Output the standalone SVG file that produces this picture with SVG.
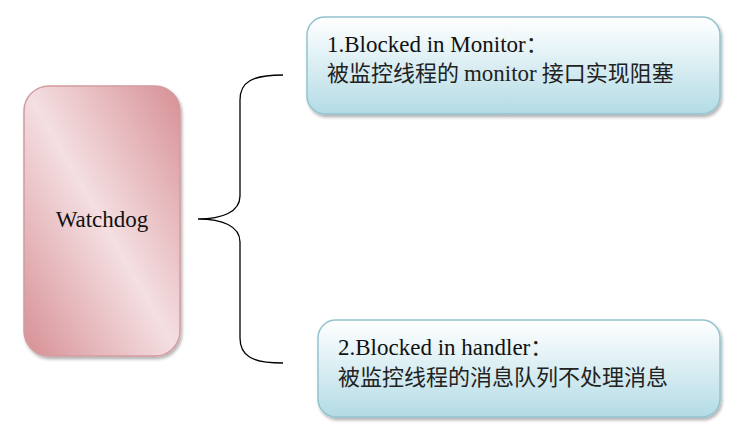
<svg xmlns="http://www.w3.org/2000/svg" width="746" height="443" viewBox="0 0 746 443">
  <defs>
    <linearGradient id="pink" x1="1" y1="0" x2="0" y2="1">
      <stop offset="0" stop-color="#d68f94"/>
      <stop offset="0.22" stop-color="#e4b3b7"/>
      <stop offset="0.5" stop-color="#f4dfe2"/>
      <stop offset="0.78" stop-color="#e4b3b7"/>
      <stop offset="1" stop-color="#d68f94"/>
    </linearGradient>
    <linearGradient id="blue" x1="0" y1="0" x2="0" y2="1">
      <stop offset="0" stop-color="#ffffff"/>
      <stop offset="0.3" stop-color="#e9f5f8"/>
      <stop offset="1" stop-color="#b3dbe5"/>
    </linearGradient>
    <filter id="shadow" x="-10%" y="-10%" width="120%" height="130%">
      <feDropShadow dx="1.5" dy="2.5" stdDeviation="1.5" flood-color="#000" flood-opacity="0.3"/>
    </filter>
  </defs>
  <style>
    .lbl { font-family: "Liberation Serif", "Noto Sans CJK SC", serif; font-size: 23px; fill: #111; }
    .cjk { font-family: "Noto Sans CJK SC", sans-serif; font-size: 22px; fill: #222; }
    .lat { font-family: "Liberation Serif", serif; font-size: 23px; }
    .blueBox { fill: url(#blue); stroke: #92c4d0; stroke-width: 1.5; filter: url(#shadow); }
    .pinkBox { fill: url(#pink); stroke: #d29ca0; stroke-width: 1.5; filter: url(#shadow); }
    .brace { fill: none; stroke: #000; stroke-width: 1.3; }
  </style>
  <rect width="746" height="443" fill="#fff"/>

  <g id="watchdog">
    <rect class="pinkBox" x="24" y="86" width="156" height="270" rx="25" ry="25"/>
    <text class="lbl" x="102" y="227" text-anchor="middle">Watchdog</text>
  </g>

  <g id="connectors">
    <path class="brace" d="M283,75 C252,75 240,82 240,100 L240,196 C240,212 222,219 198,219 C222,219 240,226 240,242 L240,338 C240,356 252,363 283,363"/>
  </g>

  <g id="monitor">
    <rect class="blueBox" x="307" y="17" width="413" height="97" rx="18" ry="18"/>
    <text class="lbl" x="327" y="52">1.Blocked in Monitor<tspan class="cjk">：</tspan></text>
    <text class="cjk" x="327" y="81">被监控线程的 <tspan class="lat">monitor</tspan> 接口实现阻塞</text>
  </g>

  <g id="handler">
    <rect class="blueBox" x="318" y="320" width="402" height="97" rx="18" ry="18"/>
    <text class="lbl" x="338" y="355">2.Blocked in handler<tspan class="cjk">：</tspan></text>
    <text class="cjk" x="338" y="385">被监控线程的消息队列不处理消息</text>
  </g>
</svg>
